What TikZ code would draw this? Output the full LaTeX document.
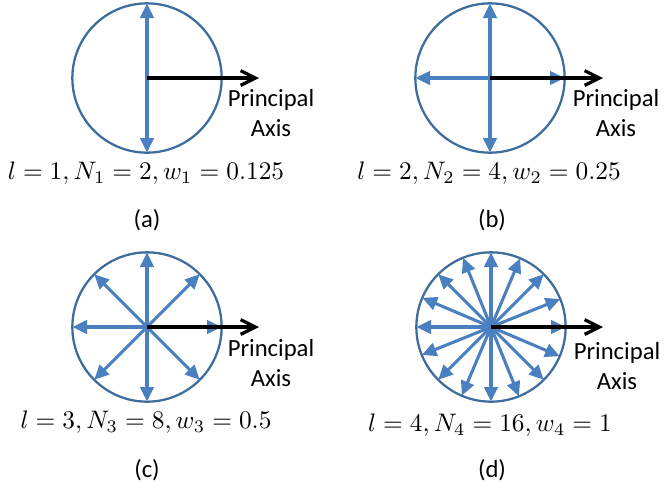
\documentclass[tikz,border=0pt]{standalone}
\usepackage{fontspec}
\setmainfont{Carlito}
\usetikzlibrary{arrows.meta}
\definecolor{ringblue}{RGB}{61,108,158}
\definecolor{arrowblue}{RGB}{74,128,192}
\begin{document}
\begin{tikzpicture}[x=0.75pt,y=-0.75pt,
  ring/.style={circle, draw=ringblue, line width=1.7pt, minimum size=112pt, inner sep=0pt, outer sep=0pt},
  dir/.style={draw=arrowblue, line width=2.3pt, -{Triangle[length=11pt,width=10pt]}},
  paxis/.style={draw=black, line width=2.5pt, -{Straight Barb[length=11pt,width=11pt]}},
  lab/.style={font=\fontsize{18.5}{22.5}\selectfont, align=center, inner sep=0pt},
  eq/.style={font=\fontsize{10}{12}\selectfont, inner sep=0pt, scale=1.9, transform shape},
]
\useasboundingbox (0,0) rectangle (664,487);
% (a)
\node[ring] (ca) at (147,78) {};
\foreach \a in {90,270} \draw[dir] (ca.center) -- (ca.\a);
\coordinate (pa) at (259,78);
\draw[paxis] (ca.center) -- (pa);
\node[lab] (ta) at (271,113) {Principal\\Axis};
\node[eq] (ea) at (146,173) {$l=1, N_1=2, w_1=0.125$};
\node[lab] (capa) at (147,220) {(a)};
% (b)
\node[ring] (cb) at (490,78) {};
\foreach \a in {0,90,180,270} \draw[dir] (cb.center) -- (cb.\a);
\coordinate (pb) at (603,78);
\draw[paxis] (cb.center) -- (pb);
\node[lab] (tb) at (616,113) {Principal\\Axis};
\node[eq] (eb) at (489,173) {$l=2, N_2=4, w_2=0.25$};
\node[lab] (capb) at (492,220) {(b)};
% (c)
\node[ring] (cc) at (147,327) {};
\foreach \a in {0,45,...,315} \draw[dir] (cc.center) -- (cc.\a);
\coordinate (pc) at (259,327);
\draw[paxis] (cc.center) -- (pc);
\node[lab] (tc) at (271,363) {Principal\\Axis};
\node[eq] (ec) at (146,422) {$l=3, N_3=8, w_3=0.5$};
\node[lab] (capc) at (147,470) {(c)};
% (d)
\node[ring] (cd) at (491,327) {};
\foreach \a in {0,22.5,...,337.5} \draw[dir] (cd.center) -- (cd.\a);
\coordinate (pd) at (603,327);
\draw[paxis] (cd.center) -- (pd);
\node[lab] (td) at (617,366) {Principal\\Axis};
\node[eq] (ed) at (490,425) {$l=4, N_4=16, w_4=1$};
\node[lab] (capd) at (492,470) {(d)};
\end{tikzpicture}
\end{document}
